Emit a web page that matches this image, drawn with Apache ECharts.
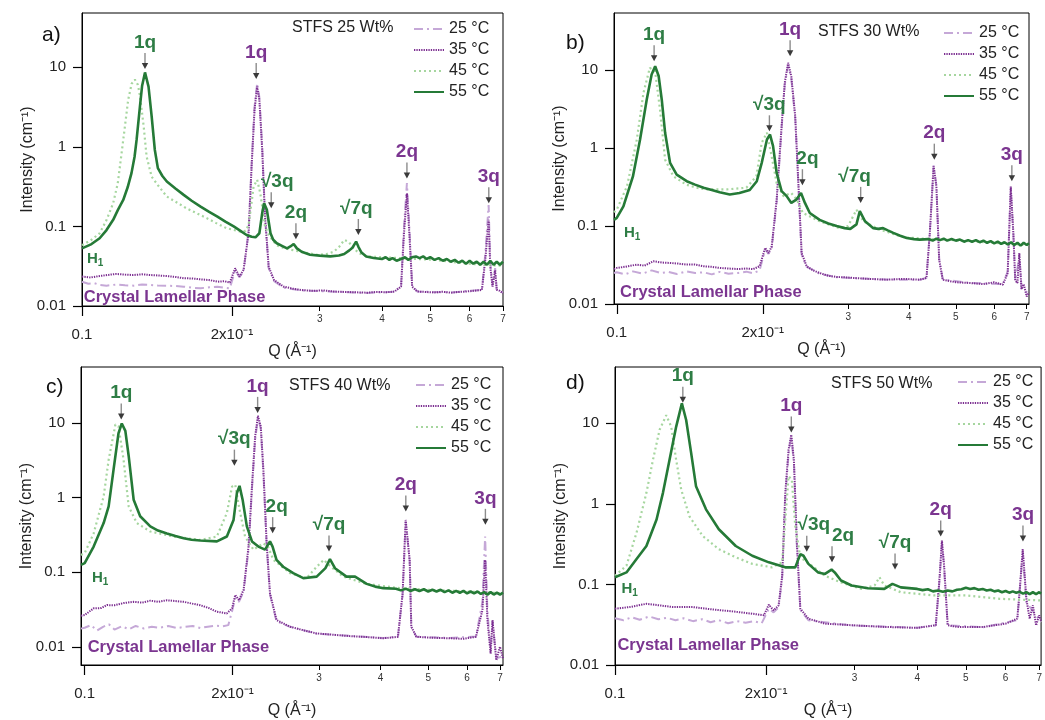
<!DOCTYPE html>
<html>
<head>
<meta charset="utf-8">
<title>STFS SAXS profiles</title>
<script src="https://cdn.jsdelivr.net/npm/echarts@6/dist/echarts.min.js"></script>
<style>
  html, body { margin: 0; padding: 0; background: #fff; }
  #chart { width: 1045px; height: 720px; }
</style>
</head>
<body>
<div id="chart"></div>
<script>
// ---- Scattering curves, [Q (Å⁻¹), I (cm⁻¹)] ----
// STFS 25 Wt%
const stfs25_25C = [[0.100,0.0202],[0.103,0.0190],[0.106,0.0193],[0.1085,0.0184],[0.112,0.0180],[0.117,0.0186],[0.122,0.0182],[0.127,0.0180],[0.132,0.0186],[0.137,0.0184],[0.142,0.0181],[0.148,0.0180],[0.154,0.0178],[0.160,0.0175],[0.166,0.0170],[0.173,0.0167],[0.180,0.0172],[0.187,0.0175],[0.193,0.0170],[0.198,0.0167],[0.203,0.028],[0.207,0.023],[0.211,0.027],[0.216,0.09],[0.219,0.6],[0.222,3.2],[0.2247,6.3],[0.227,4.2],[0.230,1.0],[0.233,0.14],[0.237,0.03],[0.243,0.0205],[0.254,0.017],[0.275,0.0157],[0.32,0.0151],[0.374,0.0146],[0.424,0.0151],[0.437,0.018],[0.443,0.1],[0.449,0.35],[0.454,0.1],[0.46,0.018],[0.471,0.0152],[0.55,0.0148],[0.635,0.016],[0.645,0.045],[0.655,0.186],[0.66,0.035],[0.667,0.018],[0.675,0.03],[0.68,0.016],[0.70,0.0148]];
const stfs25_35C = [[0.100,0.0234],[0.104,0.0228],[0.1085,0.0238],[0.113,0.0246],[0.117,0.0253],[0.122,0.0248],[0.1267,0.0245],[0.132,0.0250],[0.137,0.0245],[0.142,0.0242],[0.148,0.0238],[0.154,0.0232],[0.160,0.0223],[0.166,0.0222],[0.173,0.0216],[0.180,0.0212],[0.187,0.0202],[0.193,0.0205],[0.198,0.0197],[0.203,0.0298],[0.207,0.0234],[0.211,0.0284],[0.216,0.082],[0.219,0.566],[0.222,2.92],[0.2247,5.7],[0.227,3.9],[0.230,0.92],[0.233,0.133],[0.237,0.031],[0.243,0.0212],[0.254,0.0175],[0.265,0.0165],[0.275,0.0159],[0.29,0.0155],[0.305,0.0157],[0.32,0.0152],[0.34,0.0150],[0.36,0.0148],[0.374,0.0147],[0.39,0.0150],[0.41,0.0149],[0.424,0.0152],[0.437,0.0175],[0.443,0.082],[0.449,0.26],[0.454,0.082],[0.46,0.0175],[0.471,0.0152],[0.49,0.0150],[0.51,0.0148],[0.53,0.0151],[0.55,0.0147],[0.57,0.0150],[0.59,0.0152],[0.61,0.0155],[0.635,0.0159],[0.645,0.038],[0.655,0.121],[0.66,0.031],[0.667,0.0175],[0.675,0.028],[0.68,0.016],[0.69,0.0155],[0.70,0.0144]];
const stfs25_45C = [[0.100,0.058],[0.1045,0.068],[0.1085,0.082],[0.112,0.12],[0.1155,0.196],[0.118,0.35],[0.121,1.22],[0.1238,3.9],[0.1258,6.2],[0.1277,7.0],[0.1295,6.0],[0.1307,4.4],[0.133,1.8],[0.1348,0.755],[0.138,0.42],[0.142,0.33],[0.148,0.237],[0.155,0.20],[0.162,0.169],[0.170,0.146],[0.178,0.127],[0.186,0.11],[0.195,0.095],[0.208,0.086],[0.213,0.088],[0.216,0.104],[0.219,0.2],[0.221,0.317],[0.2247,0.385],[0.228,0.26],[0.233,0.10],[0.238,0.075],[0.246,0.058],[0.255,0.053],[0.266,0.050],[0.28,0.047],[0.297,0.044],[0.31,0.045],[0.32,0.048],[0.328,0.055],[0.336,0.0676],[0.343,0.064],[0.351,0.053],[0.36,0.046],[0.374,0.042],[0.40,0.041],[0.437,0.040],[0.47,0.039],[0.51,0.038],[0.55,0.036],[0.595,0.034],[0.64,0.033],[0.70,0.032]];
const stfs25_55C = [[0.100,0.053],[0.1045,0.060],[0.1085,0.071],[0.112,0.090],[0.1155,0.121],[0.118,0.16],[0.121,0.215],[0.1235,0.31],[0.1257,0.467],[0.1275,0.75],[0.1287,1.22],[0.1307,3.2],[0.132,5.8],[0.1338,8.6],[0.136,5.7],[0.138,2.4],[0.140,0.92],[0.142,0.54],[0.145,0.43],[0.148,0.367],[0.154,0.30],[0.160,0.249],[0.166,0.21],[0.173,0.177],[0.180,0.152],[0.187,0.133],[0.194,0.115],[0.2016,0.100],[0.208,0.088],[0.214,0.078],[0.219,0.074],[0.223,0.073],[0.227,0.082],[0.230,0.147],[0.232,0.196],[0.235,0.162],[0.239,0.082],[0.242,0.068],[0.246,0.0614],[0.252,0.057],[0.258,0.053],[0.262,0.056],[0.266,0.060],[0.270,0.053],[0.276,0.048],[0.287,0.044],[0.300,0.043],[0.315,0.042],[0.328,0.043],[0.336,0.045],[0.344,0.050],[0.349,0.054],[0.355,0.0645],[0.359,0.055],[0.364,0.047],[0.372,0.042],[0.385,0.040],[0.40,0.039],[0.407,0.041],[0.414,0.038],[0.42,0.040],[0.428,0.037],[0.437,0.039],[0.445,0.041],[0.452,0.038],[0.46,0.041],[0.468,0.042],[0.476,0.040],[0.484,0.042],[0.492,0.039],[0.50,0.041],[0.51,0.038],[0.52,0.040],[0.53,0.037],[0.54,0.039],[0.55,0.036],[0.56,0.038],[0.57,0.035],[0.58,0.037],[0.59,0.034],[0.60,0.037],[0.61,0.034],[0.62,0.036],[0.63,0.033],[0.64,0.036],[0.65,0.033],[0.66,0.037],[0.67,0.033],[0.68,0.036],[0.69,0.033],[0.70,0.036]];

// STFS 30 Wt%
const stfs30_25C = [[0.0987,0.025],[0.1,0.0255],[0.104,0.024],[0.108,0.0262],[0.113,0.0245],[0.118,0.027],[0.123,0.025],[0.128,0.0258],[0.133,0.0242],[0.139,0.0262],[0.145,0.025],[0.151,0.0255],[0.157,0.024],[0.163,0.0258],[0.17,0.0245],[0.178,0.025],[0.185,0.026],[0.191,0.0248],[0.197,0.027],[0.2023,0.05],[0.2055,0.044],[0.2087,0.053],[0.2136,0.2],[0.2187,1.8],[0.222,6.5],[0.2256,11.5],[0.229,7.8],[0.2333,2.4],[0.237,0.3],[0.2405,0.043],[0.2463,0.03],[0.262,0.0245],[0.284,0.022],[0.307,0.0215],[0.36,0.0206],[0.421,0.0204],[0.435,0.0215],[0.442,0.085],[0.45,0.6],[0.456,0.33],[0.462,0.038],[0.47,0.0206],[0.534,0.0187],[0.625,0.018],[0.6396,0.026],[0.649,0.3],[0.657,0.08],[0.663,0.02],[0.676,0.04],[0.683,0.016],[0.7077,0.0135]];
const stfs30_35C = [[0.0987,0.028],[0.1,0.029],[0.104,0.030],[0.11,0.032],[0.114,0.031],[0.119,0.0353],[0.124,0.034],[0.1288,0.0336],[0.134,0.033],[0.139,0.032],[0.145,0.032],[0.151,0.0305],[0.157,0.030],[0.163,0.029],[0.17,0.0285],[0.178,0.0281],[0.185,0.0285],[0.191,0.028],[0.197,0.0305],[0.2023,0.0524],[0.2055,0.045],[0.2087,0.055],[0.2136,0.218],[0.2187,1.91],[0.222,6.9],[0.2256,12.4],[0.229,8.3],[0.2333,2.56],[0.237,0.32],[0.2405,0.045],[0.2463,0.0305],[0.254,0.027],[0.262,0.025],[0.273,0.023],[0.284,0.0222],[0.295,0.022],[0.307,0.0216],[0.33,0.021],[0.3598,0.0205],[0.39,0.021],[0.421,0.0205],[0.435,0.0216],[0.442,0.0815],[0.45,0.585],[0.456,0.32],[0.462,0.037],[0.47,0.0205],[0.5,0.019],[0.534,0.0186],[0.57,0.018],[0.6,0.019],[0.625,0.0177],[0.6396,0.025],[0.649,0.32],[0.657,0.0815],[0.663,0.02],[0.67,0.0186],[0.676,0.045],[0.683,0.0155],[0.69,0.018],[0.70,0.0125],[0.7077,0.014]];
const stfs30_45C = [[0.0987,0.150],[0.1,0.162],[0.105,0.324],[0.11,1.29],[0.1135,5.1],[0.117,10.7],[0.120,9.6],[0.1228,3.1],[0.1258,0.71],[0.1308,0.435],[0.139,0.34],[0.146,0.31],[0.153,0.295],[0.1685,0.295],[0.185,0.31],[0.194,0.435],[0.199,1.17],[0.204,1.57],[0.2086,0.78],[0.2136,0.357],[0.2205,0.242],[0.229,0.265],[0.2349,0.22],[0.242,0.147],[0.262,0.115],[0.288,0.094],[0.300,0.1],[0.307,0.133],[0.312,0.162],[0.3225,0.115],[0.3486,0.09],[0.37,0.08],[0.39,0.072],[0.44,0.068],[0.495,0.066],[0.55,0.063],[0.60,0.061],[0.65,0.059],[0.7077,0.057]];
const stfs30_55C = [[0.0987,0.120],[0.1,0.127],[0.1032,0.179],[0.108,0.435],[0.1117,1.29],[0.1153,4.2],[0.118,8.8],[0.120,11.2],[0.122,8.4],[0.1238,4.2],[0.1258,1.57],[0.1288,0.646],[0.1329,0.457],[0.1394,0.376],[0.145,0.34],[0.151,0.31],[0.157,0.29],[0.163,0.271],[0.171,0.254],[0.179,0.265],[0.188,0.29],[0.1944,0.376],[0.199,0.646],[0.204,1.29],[0.207,1.49],[0.210,1.06],[0.2136,0.48],[0.2187,0.28],[0.224,0.242],[0.229,0.198],[0.2349,0.22],[0.2398,0.265],[0.2443,0.198],[0.25,0.147],[0.262,0.12],[0.273,0.108],[0.284,0.1],[0.295,0.094],[0.303,0.092],[0.312,0.105],[0.317,0.155],[0.325,0.115],[0.338,0.094],[0.346,0.092],[0.354,0.094],[0.362,0.088],[0.3716,0.0816],[0.384,0.075],[0.396,0.0703],[0.41,0.068],[0.421,0.067],[0.44,0.068],[0.448,0.065],[0.456,0.069],[0.464,0.066],[0.472,0.069],[0.48,0.065],[0.49,0.068],[0.50,0.065],[0.51,0.067],[0.52,0.063],[0.53,0.066],[0.54,0.063],[0.55,0.066],[0.56,0.062],[0.57,0.065],[0.58,0.061],[0.59,0.064],[0.60,0.060],[0.61,0.063],[0.62,0.059],[0.63,0.062],[0.64,0.058],[0.65,0.062],[0.66,0.057],[0.67,0.061],[0.68,0.056],[0.69,0.061],[0.70,0.057],[0.7077,0.060]];

// STFS 40 Wt%
const stfs40_25C = [[0.0983,0.0175],[0.1,0.018],[0.103,0.0195],[0.106,0.0165],[0.109,0.0185],[0.112,0.02],[0.115,0.017],[0.119,0.0188],[0.123,0.0172],[0.127,0.019],[0.132,0.0176],[0.137,0.0185],[0.142,0.018],[0.148,0.019],[0.154,0.0178],[0.16,0.0185],[0.166,0.019],[0.172,0.0178],[0.178,0.0186],[0.185,0.0192],[0.191,0.0188],[0.196,0.0195],[0.1995,0.03],[0.2025,0.045],[0.206,0.04],[0.2106,0.055],[0.2155,0.2],[0.219,1.3],[0.2223,6.0],[0.2252,11.5],[0.2282,8.5],[0.231,2.2],[0.2346,0.23],[0.2383,0.05],[0.2457,0.022],[0.2617,0.0185],[0.2966,0.015],[0.346,0.014],[0.4053,0.0131],[0.434,0.0137],[0.4436,0.05],[0.45,0.48],[0.4585,0.14],[0.462,0.0185],[0.473,0.0137],[0.553,0.0131],[0.6255,0.0137],[0.6448,0.04],[0.653,0.3],[0.66,0.03],[0.67,0.009],[0.676,0.022],[0.688,0.007],[0.71,0.0075]];
const stfs40_35C = [[0.0983,0.026],[0.1,0.0266],[0.1043,0.0327],[0.108,0.033],[0.111,0.0362],[0.115,0.036],[0.12,0.0385],[0.1258,0.040],[0.131,0.039],[0.136,0.0415],[0.141,0.040],[0.147,0.042],[0.153,0.041],[0.159,0.040],[0.165,0.038],[0.1718,0.036],[0.179,0.033],[0.1858,0.0295],[0.1947,0.028],[0.1995,0.0327],[0.2025,0.0494],[0.206,0.042],[0.2106,0.058],[0.2155,0.22],[0.219,1.4],[0.2223,6.6],[0.2252,12.4],[0.2282,9.0],[0.231,2.4],[0.2346,0.243],[0.2383,0.052],[0.2457,0.0228],[0.2617,0.0186],[0.28,0.0165],[0.2966,0.0151],[0.32,0.0145],[0.346,0.0139],[0.375,0.0135],[0.4053,0.013],[0.434,0.0136],[0.4436,0.052],[0.45,0.5],[0.4585,0.146],[0.462,0.0186],[0.473,0.0136],[0.51,0.0132],[0.553,0.013],[0.59,0.0128],[0.6255,0.0136],[0.6448,0.031],[0.653,0.146],[0.66,0.0228],[0.67,0.0081],[0.676,0.0228],[0.688,0.0066],[0.70,0.01],[0.71,0.007]];
const stfs40_45C = [[0.0983,0.17],[0.1,0.18],[0.1043,0.33],[0.1093,1.03],[0.1119,3.2],[0.1155,9.5],[0.1172,9.0],[0.12,3.2],[0.1229,0.76],[0.1277,0.454],[0.136,0.35],[0.1516,0.3],[0.1718,0.27],[0.1858,0.3],[0.1947,0.62],[0.1995,1.4],[0.2025,1.48],[0.206,0.76],[0.212,0.3],[0.2205,0.2],[0.231,0.243],[0.236,0.22],[0.2422,0.146],[0.2617,0.097],[0.283,0.083],[0.2966,0.118],[0.3066,0.146],[0.314,0.125],[0.3356,0.087],[0.3748,0.0696],[0.4375,0.061],[0.5,0.058],[0.6,0.055],[0.71,0.052]];
const stfs40_55C = [[0.0983,0.125],[0.1,0.132],[0.1043,0.22],[0.1093,0.454],[0.1119,0.76],[0.1145,2.36],[0.1172,7.3],[0.119,9.8],[0.121,7.8],[0.1229,3.6],[0.1258,0.935],[0.1297,0.56],[0.136,0.41],[0.141,0.36],[0.147,0.33],[0.153,0.305],[0.159,0.285],[0.165,0.272],[0.1718,0.265],[0.1858,0.258],[0.1947,0.3],[0.2009,0.5],[0.2041,1.15],[0.2066,1.43],[0.2096,0.935],[0.2138,0.41],[0.219,0.258],[0.2257,0.22],[0.2328,0.2],[0.2383,0.258],[0.2412,0.22],[0.2457,0.146],[0.2535,0.118],[0.2657,0.097],[0.2785,0.083],[0.2966,0.087],[0.309,0.113],[0.3156,0.149],[0.3231,0.113],[0.341,0.087],[0.355,0.087],[0.3748,0.0696],[0.39,0.064],[0.4053,0.061],[0.43,0.060],[0.44,0.057],[0.45,0.060],[0.46,0.056],[0.47,0.059],[0.48,0.056],[0.49,0.059],[0.50,0.055],[0.51,0.058],[0.52,0.055],[0.53,0.058],[0.54,0.054],[0.55,0.057],[0.56,0.053],[0.57,0.056],[0.58,0.053],[0.59,0.056],[0.60,0.052],[0.61,0.055],[0.62,0.052],[0.63,0.055],[0.64,0.051],[0.65,0.054],[0.66,0.050],[0.67,0.054],[0.68,0.050],[0.69,0.053],[0.70,0.050],[0.71,0.053]];

// STFS 50 Wt%
const stfs50_25C = [[0.1,0.038],[0.104,0.036],[0.108,0.039],[0.112,0.0365],[0.117,0.040],[0.122,0.037],[0.127,0.0385],[0.132,0.036],[0.137,0.038],[0.143,0.035],[0.149,0.037],[0.155,0.034],[0.161,0.036],[0.168,0.033],[0.175,0.035],[0.182,0.0335],[0.189,0.035],[0.196,0.033],[0.2025,0.05],[0.207,0.045],[0.2118,0.052],[0.2153,0.12],[0.2184,1.2],[0.2217,4.2],[0.2245,6.8],[0.2272,3.2],[0.2303,0.3],[0.234,0.048],[0.2428,0.036],[0.296,0.031],[0.40,0.029],[0.4355,0.031],[0.443,0.11],[0.448,0.33],[0.4525,0.16],[0.46,0.031],[0.5425,0.0295],[0.633,0.036],[0.649,0.25],[0.66,0.06],[0.706,0.034]];
const stfs50_35C = [[0.1,0.05],[0.107,0.0524],[0.1155,0.0575],[0.1227,0.055],[0.1304,0.0524],[0.1428,0.0524],[0.156,0.049],[0.1713,0.0463],[0.1877,0.0433],[0.198,0.0414],[0.2025,0.056],[0.207,0.0476],[0.2118,0.055],[0.2153,0.128],[0.2184,1.37],[0.2217,4.7],[0.2245,7.2],[0.2272,3.5],[0.2303,0.33],[0.234,0.05],[0.2428,0.0376],[0.262,0.0326],[0.296,0.0312],[0.344,0.0297],[0.40,0.0289],[0.4355,0.0312],[0.443,0.117],[0.448,0.35],[0.4525,0.171],[0.46,0.0312],[0.48,0.0297],[0.5425,0.0297],[0.6,0.0326],[0.633,0.0376],[0.6397,0.08],[0.649,0.274],[0.66,0.066],[0.67,0.0376],[0.68,0.055],[0.69,0.031],[0.7,0.0414],[0.706,0.035]];
const stfs50_45C = [[0.1,0.128],[0.1054,0.171],[0.1104,0.44],[0.1155,1.37],[0.119,3.5],[0.1227,8.3],[0.1265,12.6],[0.1294,9.1],[0.1324,3.5],[0.1355,1.5],[0.1407,0.7],[0.1495,0.4],[0.161,0.274],[0.174,0.217],[0.1877,0.18],[0.2056,0.163],[0.2153,0.188],[0.2184,0.64],[0.2217,2.2],[0.225,2.0],[0.2286,0.53],[0.234,0.217],[0.2465,0.171],[0.262,0.128],[0.282,0.106],[0.31,0.088],[0.329,0.097],[0.3364,0.123],[0.344,0.097],[0.371,0.08],[0.432,0.073],[0.502,0.073],[0.584,0.0663],[0.706,0.0633]];
const stfs50_55C = [[0.1,0.123],[0.1054,0.141],[0.1104,0.207],[0.1155,0.30],[0.121,0.64],[0.1246,1.37],[0.1284,3.5],[0.1324,9.1],[0.1359,17.7],[0.1386,11],[0.1418,4.3],[0.145,1.66],[0.1518,0.855],[0.161,0.484],[0.174,0.30],[0.1877,0.227],[0.2025,0.188],[0.2184,0.163],[0.2286,0.163],[0.234,0.238],[0.2374,0.227],[0.2428,0.18],[0.254,0.141],[0.262,0.135],[0.270,0.153],[0.274,0.141],[0.282,0.112],[0.296,0.097],[0.319,0.0898],[0.344,0.088],[0.357,0.1015],[0.371,0.092],[0.40,0.088],[0.41,0.085],[0.42,0.087],[0.43,0.082],[0.44,0.084],[0.45,0.081],[0.46,0.084],[0.47,0.082],[0.48,0.086],[0.49,0.087],[0.50,0.091],[0.51,0.088],[0.52,0.090],[0.53,0.086],[0.54,0.088],[0.55,0.084],[0.56,0.086],[0.57,0.082],[0.58,0.084],[0.59,0.080],[0.60,0.083],[0.61,0.079],[0.62,0.082],[0.63,0.079],[0.64,0.081],[0.65,0.077],[0.66,0.080],[0.67,0.076],[0.68,0.080],[0.69,0.076],[0.70,0.080],[0.706,0.077]];

// ---- Indexed reflections: [label, Q, I at arrow tip, phase] (H = hexagonal H1, L = crystal lamellar) ----
const peaks25 = [['1q',0.1338,9.5,'H'],['1q',0.2237,7.1,'L'],['√3q',0.2398,0.169,'H'],['2q',0.2688,0.069,'H'],['√7q',0.3587,0.078,'H'],['2q',0.449,0.40,'L'],['3q',0.6555,0.195,'L']];
const peaks30 = [['1q',0.1194,13.0,'H'],['1q',0.2277,15.1,'L'],['√3q',0.2064,1.64,'H'],['2q',0.2414,0.334,'H'],['√7q',0.3183,0.198,'H'],['2q',0.4515,0.71,'L'],['3q',0.6524,0.376,'L']];
const peaks40 = [['1q',0.1187,11.1,'H'],['1q',0.2249,13.6,'L'],['√3q',0.2017,2.67,'H'],['2q',0.2413,0.333,'H'],['√7q',0.3142,0.189,'H'],['2q',0.4503,0.65,'L'],['3q',0.6538,0.43,'L']];
const peaks50 = [['1q',0.1365,18,'H'],['1q',0.2245,7.7,'L'],['√3q',0.2410,0.255,'H'],['2q',0.2706,0.188,'H'],['√7q',0.3613,0.153,'H'],['2q',0.4455,0.394,'L'],['3q',0.6497,0.34,'L']];

// ---- Phase tags: [phase, Q, I] ----
const phases25 = [['H',0.1023,0.039],['L',0.1008,0.0127]];
const phases30 = [['H',0.1035,0.082],['L',0.1016,0.0141]];
const phases40 = [['H',0.1035,0.083],['L',0.1014,0.0098]];
const phases50 = [['H',0.1030,0.088],['L',0.1011,0.0173]];

// ---- Axis ticks ----
const temperatures = ['25 °C', '35 °C', '45 °C', '55 °C'];
const majorQTicks = [0.1, 0.2];
const minorQTicks = [0.3, 0.4, 0.5, 0.6, 0.7];
const intensityTicks = [0.01, 0.1, 1, 10];

// ---- Styling ----
const FONT = '"Liberation Sans", Arial, Helvetica, sans-serif';
const GREEN_TXT = '#2e7d45';
const PURPLE_TXT = '#7b3590';
const lineStyles = {
  '25 °C': { color: '#c5a8d7', width: 2, type: [9, 4, 2, 4] },
  '35 °C': { color: '#7b2d90', width: 2, type: [1.3, 1.1] },
  '45 °C': { color: '#a6d69f', width: 2.2, type: [2, 3] },
  '55 °C': { color: '#257a37', width: 2.6, type: 'solid' }
};
// label offsets (px) so neighbouring peak labels do not collide
const labelShift25 = [0, 0, 6, 0, -2, 0, 0];
const labelShift30 = [0, 0, 0, 5, -6, 0, 0];
const labelShift40 = [0, 0, 0, 4, 0, 0, 0];
const labelShift50 = [0, 0, 7, 11, 0, 0, 0];

const panels = [
  { letter: 'a)', caption: 'STFS 25 Wt%', curves: [stfs25_25C, stfs25_35C, stfs25_45C, stfs25_55C],
    peaks: peaks25, phases: phases25, shift: labelShift25,
    grid: { left: 82, top: 13, width: 421, height: 293 }, qRange: [0.1, 0.7], iRange: [0.01, 48],
    letterAt: [42, 25], captionAt: [292, 20], legendAt: [413, 21] },
  { letter: 'b)', caption: 'STFS 30 Wt%', curves: [stfs30_25C, stfs30_35C, stfs30_45C, stfs30_55C],
    peaks: peaks30, phases: phases30, shift: labelShift30,
    grid: { left: 614, top: 13, width: 415, height: 291 }, qRange: [0.0987, 0.7077], iRange: [0.01, 54],
    letterAt: [566, 33], captionAt: [818, 24], legendAt: [943, 25] },
  { letter: 'c)', caption: 'STFS 40 Wt%', curves: [stfs40_25C, stfs40_35C, stfs40_45C, stfs40_55C],
    peaks: peaks40, phases: phases40, shift: labelShift40,
    grid: { left: 81, top: 367, width: 422, height: 298 }, qRange: [0.0983, 0.71], iRange: [0.0057, 56],
    letterAt: [46, 377], captionAt: [289, 378], legendAt: [415, 377] },
  { letter: 'd)', caption: 'STFS 50 Wt%', curves: [stfs50_25C, stfs50_35C, stfs50_45C, stfs50_55C],
    peaks: peaks50, phases: phases50, shift: labelShift50,
    grid: { left: 615, top: 367, width: 432, height: 300 }, qRange: [0.1, 0.706], iRange: [0.01, 50],
    letterAt: [566, 373], captionAt: [831, 376], legendAt: [957, 374] }
];

function peakRenderer(list, shift) {
  return function (params, api) {
    const p = list[params.dataIndex];
    const pt = api.coord([api.value(0), api.value(1)]);
    const x = pt[0], y = pt[1];
    const color = p[3] === 'H' ? GREEN_TXT : PURPLE_TXT;
    return {
      type: 'group',
      children: [
        { type: 'line', shape: { x1: x, y1: y - 16, x2: x, y2: y - 5 }, style: { stroke: '#8c8c8c', lineWidth: 1.4 } },
        { type: 'polygon', shape: { points: [[x - 3.2, y - 6], [x + 3.2, y - 6], [x, y]] }, style: { fill: '#3a3a3a' } },
        { type: 'text', x: x + shift[params.dataIndex], y: y - 17,
          style: { text: p[0], fill: color, font: 'bold 19px ' + FONT,
                   align: 'center', verticalAlign: 'bottom', textAlign: 'center', textVerticalAlign: 'bottom' } }
      ]
    };
  };
}

function phaseRenderer(list) {
  return function (params, api) {
    const t = list[params.dataIndex];
    const pt = api.coord([api.value(0), api.value(1)]);
    const isHex = t[0] === 'H';
    return {
      type: 'text', x: pt[0], y: pt[1],
      style: isHex ? {
        text: '{h|H}{s|1}',
        rich: {
          h: { fontFamily: FONT, fontWeight: 'bold', fontSize: 15, fill: GREEN_TXT, color: GREEN_TXT },
          s: { fontFamily: FONT, fontWeight: 'bold', fontSize: 10, fill: GREEN_TXT, color: GREEN_TXT, padding: [8, 0, 0, 0] }
        },
        align: 'left', verticalAlign: 'middle', textAlign: 'left', textVerticalAlign: 'middle'
      } : {
        text: 'Crystal Lamellar Phase', fill: PURPLE_TXT, font: 'bold 16.5px ' + FONT,
        align: 'left', verticalAlign: 'middle', textAlign: 'left', textVerticalAlign: 'middle'
      }
    };
  };
}

const option = {
  animation: false,
  backgroundColor: '#ffffff',
  title: [], legend: [], grid: [], xAxis: [], yAxis: [], series: []
};

panels.forEach(function (pn, k) {
  option.grid.push(Object.assign({ show: true, borderColor: '#000', borderWidth: 1, backgroundColor: 'transparent' }, pn.grid));

  // main Q axis: 0.1 and 2x10⁻¹ with long ticks
  option.xAxis.push({
    type: 'log', gridIndex: k, position: 'bottom', min: pn.qRange[0], max: pn.qRange[1],
    name: 'Q (Å⁻¹)', nameLocation: 'middle', nameGap: 38,
    nameTextStyle: { fontFamily: FONT, fontSize: 16, color: '#222' },
    axisLine: { show: true, lineStyle: { color: '#000', width: 1 } },
    axisTick: { show: true, length: 10, customValues: majorQTicks, lineStyle: { color: '#000', width: 1.2 } },
    axisLabel: { show: true, customValues: majorQTicks, margin: 21, fontFamily: FONT, fontSize: 15, color: '#222',
      formatter: function (v) { return Math.abs(v - 0.1) < 1e-6 ? '0.1' : '2x10⁻¹'; } },
    splitLine: { show: false }, minorTick: { show: false }
  });
  // secondary Q axis: digits 3…7 (×10⁻¹) with short ticks
  option.xAxis.push({
    type: 'log', gridIndex: k, position: 'bottom', offset: 0, min: pn.qRange[0], max: pn.qRange[1],
    axisLine: { show: false },
    axisTick: { show: true, length: 5, customValues: minorQTicks, lineStyle: { color: '#000', width: 1 } },
    axisLabel: { show: true, customValues: minorQTicks, margin: 8, fontFamily: FONT, fontSize: 10, color: '#333',
      formatter: function (v) { return String(Math.round(v * 10)); } },
    splitLine: { show: false }
  });
  option.yAxis.push({
    type: 'log', gridIndex: k, min: pn.iRange[0], max: pn.iRange[1],
    name: 'Intensity (cm⁻¹)', nameLocation: 'middle', nameGap: 46, nameRotate: 90, nameMoveOverlap: false,
    nameTextStyle: { fontFamily: FONT, fontSize: 16, color: '#222' },
    axisLine: { show: true, lineStyle: { color: '#000', width: 1 } },
    axisTick: { show: true, length: 9, customValues: intensityTicks, lineStyle: { color: '#000', width: 1.2 } },
    axisLabel: { show: true, customValues: intensityTicks, margin: 16, fontFamily: FONT, fontSize: 15, color: '#222',
      formatter: function (v) { return String(v); } },
    splitLine: { show: false }
  });

  option.title.push({ text: pn.letter, left: pn.letterAt[0], top: pn.letterAt[1], padding: 0,
    textStyle: { fontFamily: FONT, fontSize: 21, fontWeight: 'normal', color: '#111' } });
  option.title.push({ text: pn.caption, left: pn.captionAt[0], top: pn.captionAt[1], padding: 0,
    textStyle: { fontFamily: FONT, fontSize: 16, fontWeight: 'normal', color: '#222' } });

  option.legend.push({
    data: temperatures, orient: 'vertical', left: pn.legendAt[0], top: pn.legendAt[1],
    itemWidth: 30, itemHeight: 12, itemGap: 5, padding: 0, selectedMode: false,
    itemStyle: { opacity: 0 },
    textStyle: { fontFamily: FONT, fontSize: 16, color: '#222', lineHeight: 14 }
  });

  temperatures.forEach(function (t, j) {
    option.series.push({
      name: t, type: 'line', xAxisIndex: 2 * k, yAxisIndex: k,
      data: pn.curves[j], symbol: 'none', showSymbol: false, smooth: false, z: 2 + j,
      lineStyle: lineStyles[t], itemStyle: { color: lineStyles[t].color }
    });
  });

  option.series.push({
    type: 'custom', name: 'peaks' + k, xAxisIndex: 2 * k, yAxisIndex: k, z: 10,
    data: pn.peaks.map(function (p) { return [p[1], p[2]]; }),
    renderItem: peakRenderer(pn.peaks, pn.shift), clip: false
  });
  option.series.push({
    type: 'custom', name: 'phases' + k, xAxisIndex: 2 * k, yAxisIndex: k, z: 10,
    data: pn.phases.map(function (p) { return [p[1], p[2]]; }),
    renderItem: phaseRenderer(pn.phases), clip: false
  });
});

const chart = echarts.init(document.getElementById('chart'), null, { renderer: 'canvas' });
chart.setOption(option);
</script>
</body>
</html>
